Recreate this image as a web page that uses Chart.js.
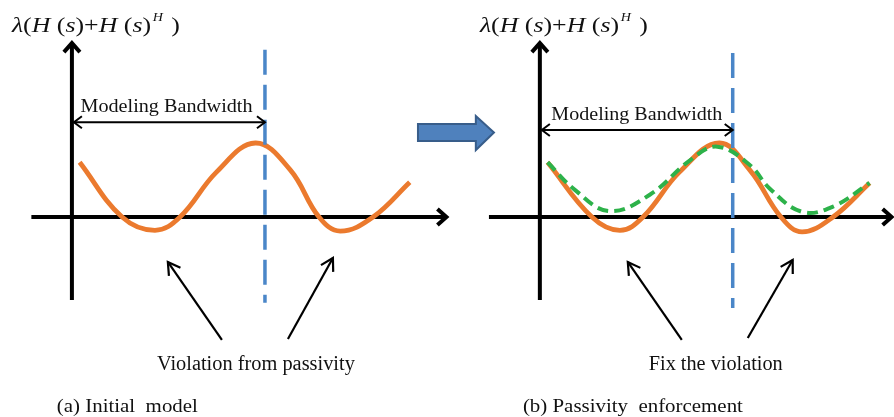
<!DOCTYPE html>
<html>
<head>
<meta charset="utf-8">
<script src="https://cdn.jsdelivr.net/npm/chart.js@4.4.1/dist/chart.umd.min.js"></script>
<style>
  html, body { margin: 0; background: #fff; }
  #wrap { position: relative; width: 894px; height: 417px; overflow: hidden; }
  #c1 { position: absolute; left: 0; top: 0; }
  #c2 { position: absolute; left: 400px; top: 0; }
</style>
</head>
<body>
<div id="wrap">
  <canvas id="c1" width="460" height="417"></canvas>
  <canvas id="c2" width="494" height="417"></canvas>
</div>
<script>
// frequency normalised so that 1 = edge of the modeling bandwidth
// (a) initial model
const initFreq = [0.04, 0.26, 0.43, 0.56, 0.75, 0.95, 1.13, 1.28, 1.39, 1.56, 1.75];
const initEig  = [0.74, 0.00, -0.18, 0.00, 0.61, 1.00, 0.64, 0.00, -0.19, 0.00, 0.47];
// (b) same model before enforcement
const origFreq = [0.04, 0.27, 0.415, 0.535, 0.725, 0.93, 1.09, 1.25, 1.36, 1.52, 1.71];
const origEig  = [0.74, 0.00, -0.18, 0.00, 0.61, 1.00, 0.63, 0.00, -0.20, 0.00, 0.46];
// (b) after passivity enforcement
const fixFreq  = [0.04, 0.18, 0.36, 0.57, 0.78, 0.92, 1.09, 1.19, 1.36, 1.52, 1.71];
const fixEig   = [0.74, 0.37, 0.08, 0.30, 0.77, 0.95, 0.70, 0.39, 0.07, 0.14, 0.46];

const bandEdge = 1.0;

const ORANGE = '#EB7A2E';
const GREEN = '#2DB24A';
const BLUE = '#4A86C8';
const SERIF = '"Liberation Serif", "Times New Roman", serif';

const pts = (xs, ys) => xs.map((v, i) => ({ x: v, y: ys[i] }));

// open arrow head at (x1,y1) pointing away from (x0,y0)
function head(ctx, x0, y0, x1, y1, len, half) {
  const a = Math.atan2(y1 - y0, x1 - x0), c = Math.cos(a), s = Math.sin(a);
  ctx.beginPath();
  ctx.moveTo(x1 - len * c + half * s, y1 - len * s - half * c);
  ctx.lineTo(x1, y1);
  ctx.lineTo(x1 - len * c - half * s, y1 - len * s + half * c);
  ctx.stroke();
}

function arrow(ctx, x0, y0, x1, y1, len, half, both) {
  ctx.beginPath();
  ctx.moveTo(x0, y0);
  ctx.lineTo(x1, y1);
  ctx.stroke();
  head(ctx, x0, y0, x1, y1, len, half);
  if (both) head(ctx, x1, y1, x0, y0, len, half);
}

// text squeezed/stretched horizontally to a given width
function fitText(ctx, str, x, y, size, width, align) {
  ctx.font = size + 'px ' + SERIF;
  const w = ctx.measureText(str).width;
  const left = align === 'center' ? x - width / 2 : x;
  ctx.save();
  ctx.translate(left, y);
  ctx.scale(width / w, 1);
  ctx.textAlign = 'left';
  ctx.fillText(str, 0, 0);
  ctx.restore();
}

// λ(H(s)+H(s)^H) built from italic / upright / superscript pieces
const titleParts = [['λ', 1], ['(', 0], ['H', 1], [' (', 0], ['s', 1], [')', 0], ['+', 0],
                    ['H', 1], [' (', 0], ['s', 1], [')', 0], ['H', 2], [' )', 0]];

function drawTitle(ctx, x, y, width) {
  const fonts = ['22px ' + SERIF, 'italic 22px ' + SERIF, 'italic 12px ' + SERIF];
  let total = 0;
  titleParts.forEach(([t, k]) => { ctx.font = fonts[k]; total += ctx.measureText(t).width + (k === 2 ? 3 : 0); });
  ctx.save();
  ctx.translate(x, y);
  ctx.scale(width / total, 1);
  let cx = 0;
  titleParts.forEach(([t, k]) => {
    ctx.font = fonts[k];
    if (k === 2) cx += 1.5;
    ctx.fillText(t, cx, k === 2 ? -11 : 0);
    cx += ctx.measureText(t).width + (k === 2 ? 1.5 : 0);
  });
  ctx.restore();
}

function sketch(m) {
  const px = chart => [v => chart.scales.x.getPixelForValue(v), v => chart.scales.y.getPixelForValue(v)];
  return {
    id: 'sketch',
    beforeDatasetsDraw(chart) {
      const ctx = chart.ctx, [X, Y] = px(chart);
      ctx.save();
      ctx.strokeStyle = '#000';
      ctx.lineWidth = 4;
      ctx.lineJoin = 'miter';
      arrow(ctx, X(m.xAxis[0]), Y(0), X(m.xAxis[1]), Y(0), 9, 8);
      arrow(ctx, X(0), Y(m.yAxis[0]), X(0), Y(m.yAxis[1]), 9, 8);
      ctx.restore();
    },
    afterDatasetsDraw(chart) {
      const ctx = chart.ctx, [X, Y] = px(chart);
      ctx.save();
      // bandwidth edge
      ctx.strokeStyle = BLUE;
      ctx.lineWidth = 3.5;
      ctx.setLineDash([25, 10]);
      ctx.beginPath();
      ctx.moveTo(X(bandEdge), Y(m.edge[0]));
      ctx.lineTo(X(bandEdge), Y(m.edge[1]));
      ctx.stroke();
      ctx.setLineDash([]);

      ctx.strokeStyle = '#000';
      ctx.fillStyle = '#111';
      ctx.lineWidth = 2;
      arrow(ctx, X(0) + 2, Y(m.band), X(bandEdge), Y(m.band), 8, 6, true);
      ctx.lineWidth = 2.2;
      m.pointers.forEach(p => arrow(ctx, X(p[0]), Y(p[1]), X(p[2]), Y(p[3]), 12, 7));

      fitText(ctx, 'Modeling Bandwidth', X(m.bandText[0]), Y(m.bandText[1]), 18, m.bandText[2], 'center');
      fitText(ctx, m.note, X(m.noteAt[0]), Y(m.noteAt[1]), 20, m.noteAt[2], 'center');
      fitText(ctx, m.caption, X(m.capAt[0]), Y(m.capAt[1]), 19, m.capAt[2], 'left');
      drawTitle(ctx, X(m.titleAt[0]), Y(m.titleAt[1]), m.titleAt[2]);

      if (m.block) {
        const b = m.block;
        ctx.beginPath();
        ctx.moveTo(X(b.x0), Y(b.bt));
        ctx.lineTo(X(b.xh), Y(b.bt));
        ctx.lineTo(X(b.xh), Y(b.ht));
        ctx.lineTo(X(b.xt), Y(b.yt));
        ctx.lineTo(X(b.xh), Y(b.hb));
        ctx.lineTo(X(b.xh), Y(b.bb));
        ctx.lineTo(X(b.x0), Y(b.bb));
        ctx.closePath();
        ctx.fillStyle = '#4F81BD';
        ctx.fill();
        ctx.strokeStyle = '#385D8A';
        ctx.lineWidth = 2;
        ctx.stroke();
      }
      ctx.restore();
    }
  };
}

function build(id, datasets, xMax, pad, marks) {
  return new Chart(document.getElementById(id), {
    type: 'line',
    data: { datasets },
    options: {
      responsive: false,
      animation: false,
      events: [],
      layout: { padding: { left: pad[0], right: pad[1], top: 32, bottom: 89 } },
      elements: { point: { radius: 0 } },
      plugins: { legend: { display: false }, tooltip: { enabled: false } },
      scales: {
        x: { type: 'linear', min: -0.3, max: xMax, display: false },
        y: { min: -1.5, max: 2.5, display: false }
      }
    },
    plugins: [sketch(marks)]
  });
}

build('c1', [{
  data: pts(initFreq, initEig),
  borderColor: ORANGE, borderWidth: 4.8, tension: 0.4
}], 2.0, [14, 2], {
  xAxis: [-0.21, 1.94], yAxis: [-1.12, 2.35], edge: [2.26, -1.16],
  band: 1.28, bandText: [0.49, 1.42, 172],
  pointers: [[0.777, -1.662, 0.497, -0.608], [1.119, -1.649, 1.352, -0.554]],
  note: 'Violation from passivity', noteAt: [0.953, -2.068, 198],
  caption: '(a) Initial  model', capAt: [-0.078, -2.635, 141],
  titleAt: [-0.311, 2.5, 168]
});

build('c2', [{
  data: pts(fixFreq, fixEig),
  borderColor: GREEN, borderWidth: 4, borderDash: [11, 6], tension: 0.4
}, {
  data: pts(origFreq, origEig),
  borderColor: ORANGE, borderWidth: 4.8, tension: 0.4
}], 1.8, [82, 7], {
  xAxis: [-0.264, 1.824], yAxis: [-1.12, 2.35], edge: [2.216, -1.23],
  band: 1.176, bandText: [0.503, 1.311, 171],
  pointers: [[0.736, -1.662, 0.456, -0.608], [1.078, -1.635, 1.311, -0.581]],
  note: 'Fix the violation', noteAt: [0.912, -2.068, 134],
  caption: '(b) Passivity  enforcement', capAt: [-0.088, -2.635, 220],
  titleAt: [-0.311, 2.5, 168],
  block: { x0: -0.632, xh: -0.332, xt: -0.238, bt: 1.257, bb: 1.027, ht: 1.365, hb: 0.905, yt: 1.142 }
});
</script>
</body>
</html>
